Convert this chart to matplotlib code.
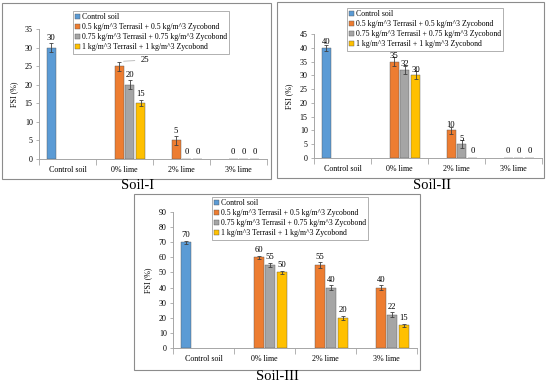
import numpy as np
import matplotlib
matplotlib.use("Agg")
import matplotlib.pyplot as plt
from matplotlib.patches import Rectangle

plt.rcParams['font.family'] = ['Liberation Serif', 'DejaVu Serif']

categories = ["Control soil", "0% lime", "2% lime", "3% lime"]
series_names = ["Control soil",
                "0.5 kg/m^3 Terrasil + 0.5 kg/m^3 Zycobond",
                "0.75 kg/m^3 Terrasil + 0.75 kg/m^3 Zycobond",
                "1 kg/m^3 Terrasil + 1 kg/m^3 Zycobond"]
colors = ["#5B9BD5", "#ED7D31", "#A5A5A5", "#FFC000"]
nan = np.nan

# Soil-I
s1_control = [30, nan, nan, nan]
s1_05 = [nan, 25, 5, 0]
s1_075 = [nan, 20, 0, 0]
s1_1 = [nan, 15, 0, 0]
s1_err_control = [1.2, 0, 0, 0]
s1_err_05 = [0, 1.2, 1.3, 0]
s1_err_075 = [0, 1.2, 0, 0]
s1_err_1 = [0, 0.8, 0, 0]

# Soil-II
s2_control = [40, nan, nan, nan]
s2_05 = [nan, 35, 10, 0]
s2_075 = [nan, 32, 5, 0]
s2_1 = [nan, 30, 0, 0]
s2_err_control = [1.0, 0, 0, 0]
s2_err_05 = [0, 1.5, 1.2, 0]
s2_err_075 = [0, 1.5, 1.5, 0]
s2_err_1 = [0, 1.5, 0, 0]

# Soil-III
s3_control = [70, nan, nan, nan]
s3_05 = [nan, 60, 55, 40]
s3_075 = [nan, 55, 40, 22]
s3_1 = [nan, 50, 20, 15]
s3_err_control = [1.0, 0, 0, 0]
s3_err_05 = [0, 1.2, 2.0, 1.5]
s3_err_075 = [0, 1.2, 1.5, 1.5]
s3_err_1 = [0, 1.2, 1.2, 1.2]

panels = [
    dict(vals=[s1_control, s1_05, s1_075, s1_1],
         errs=[s1_err_control, s1_err_05, s1_err_075, s1_err_1],
         ymax=35, ystep=5, title="Soil-I", loff=4,
         ax_rect=(39, 29, 267, 159), box=(2, 3, 271, 179),
         leg=(73, 11), title_xy=(138, 186)),
    dict(vals=[s2_control, s2_05, s2_075, s2_1],
         errs=[s2_err_control, s2_err_05, s2_err_075, s2_err_1],
         ymax=45, ystep=5, title="Soil-II", loff=1.0,
         ax_rect=(314, 34, 542, 158), box=(277, 2, 544, 178),
         leg=(347, 8), title_xy=(432, 186)),
    dict(vals=[s3_control, s3_05, s3_075, s3_1],
         errs=[s3_err_control, s3_err_05, s3_err_075, s3_err_1],
         ymax=90, ystep=10, title="Soil-III", loff=2.5,
         ax_rect=(173, 212, 417, 348), box=(134, 194, 420, 370),
         leg=(212, 197), title_xy=(277, 376)),
]

W, H = 550, 385
fig = plt.figure(figsize=(W / 100, H / 100), dpi=100)

spacing = 0.19
bw = 0.16
x = np.arange(len(categories))
FS = 5.8

for p in panels:
    bx0, by0, bx1, by1 = p["box"]
    fig.patches.append(Rectangle((bx0 / W, 1 - by1 / H), (bx1 - bx0) / W, (by1 - by0) / H,
                                 transform=fig.transFigure, fill=False,
                                 edgecolor="#8C8C8C", linewidth=0.8))
    l, t, r, b = p["ax_rect"]
    ax = fig.add_axes([l / W, 1 - b / H, (r - l) / W, (b - t) / H])
    for i, (v, e) in enumerate(zip(p["vals"], p["errs"])):
        v = np.array(v, dtype=float)
        e = np.array(e, dtype=float)
        pos = x + (i - 1.5) * spacing
        mask = ~np.isnan(v)
        ax.bar(pos[mask], v[mask], bw, color=colors[i], edgecolor="#555555",
               linewidth=0.3, label=series_names[i], zorder=2)
        em = mask & (e > 0)
        ax.errorbar(pos[em], v[em], yerr=e[em], fmt="none", ecolor="#404040",
                    elinewidth=0.6, capsize=1.5, capthick=0.6, zorder=3)
        for xx, vv in zip(pos[mask], v[mask]):
            if p["title"] == "Soil-I" and vv == 25:
                ax.annotate("25", xy=(xx + 0.03, vv + 1.3), xytext=(xx + 0.45, vv + 1.6),
                            fontsize=FS + 0.4, ha="center", va="center", zorder=10,
                            arrowprops=dict(arrowstyle="-", color="#A6A6A6", lw=0.5))
                continue
            ax.annotate(f"{vv:g}", xy=(xx, vv), xytext=(0, p["loff"] if vv > 0 else 2),
                        textcoords="offset points", ha="center", va="bottom",
                        fontsize=FS + 0.4, zorder=10)
    ax.set_xlim(-0.5, 3.5)
    ax.set_ylim(0, p["ymax"])
    ax.set_yticks(np.arange(0, p["ymax"] + 0.1, p["ystep"]))
    ax.set_xticks(x)
    ax.set_xticklabels(categories)
    ax.set_xticks(np.arange(-0.5, 4, 1), minor=True)
    ax.tick_params(axis="x", which="major", length=0, labelsize=FS, pad=5)
    ax.tick_params(axis="x", which="minor", length=4, color="#A6A6A6", width=0.6)
    ax.tick_params(axis="y", length=2.5, labelsize=FS, color="#A6A6A6", width=0.6, pad=2)
    for s in ["top", "right"]:
        ax.spines[s].set_visible(False)
    for s in ["left", "bottom"]:
        ax.spines[s].set_color("#A6A6A6")
        ax.spines[s].set_linewidth(0.7)
    ax.set_ylabel("FSI (%)", fontsize=FS, labelpad=5)
    ax.patch.set_alpha(0)
    lx, ly = p["leg"]
    leg = ax.legend(loc="upper left", bbox_to_anchor=(lx / W, 1 - ly / H),
                    bbox_transform=fig.transFigure, fontsize=5.6, frameon=True,
                    fancybox=False, edgecolor="#8C8C8C", handlelength=0.55,
                    handleheight=0.55, handletextpad=0.25, borderpad=0.3,
                    labelspacing=0.25, borderaxespad=0)
    leg.get_frame().set_linewidth(0.6)
    leg.set_zorder(5)
    tx, ty = p["title_xy"]
    fig.text(tx / W, 1 - ty / H, p["title"], ha="center", va="center", fontsize=10.5)

fig.savefig("out.png", dpi=100)
